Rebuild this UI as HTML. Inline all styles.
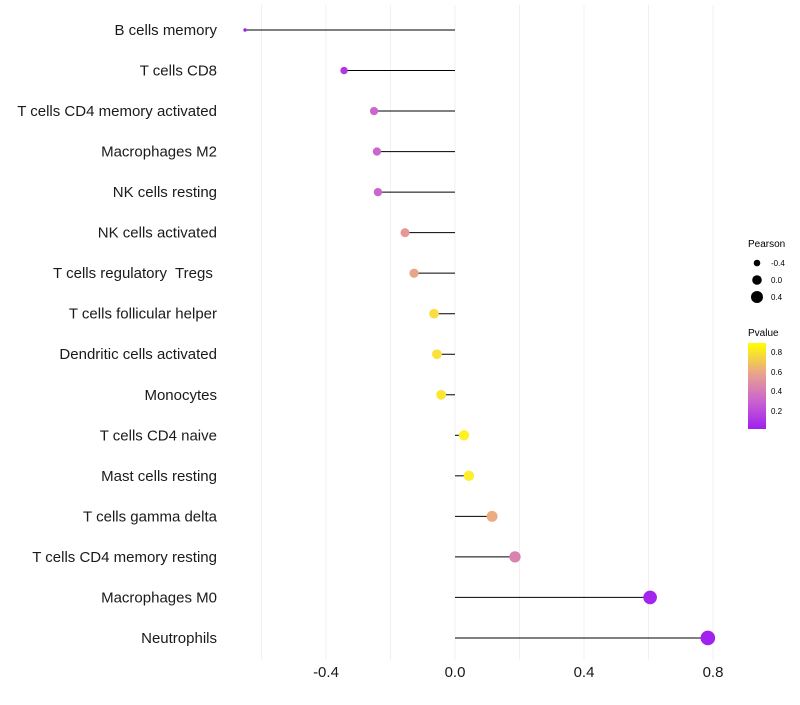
<!DOCTYPE html>
<html><head><meta charset="utf-8"><style>
body{margin:0;background:#fff;font-family:"Liberation Sans",sans-serif}
svg text{font-family:"Liberation Sans",sans-serif;white-space:pre}
</style></head><body>
<svg id="chart" width="800" height="700" xmlns="http://www.w3.org/2000/svg">
<g id="grid"></g>
<g id="marks"></g>
<g id="ylabels"></g>
<g id="xlabels"></g>
<g id="legend">
<defs><linearGradient id="pg" x1="0" y1="1" x2="0" y2="0">
<stop offset="0" stop-color="#A020F0"/><stop offset="0.34" stop-color="#CC66CC"/><stop offset="0.63" stop-color="#E8A090"/><stop offset="1" stop-color="#FFFF00"/></linearGradient></defs>
<text x="748" y="247" font-size="10">Pearson</text>
<circle cx="757" cy="263" r="3.3" fill="#000"/>
<text x="771" y="266" font-size="8">-0.4</text>
<circle cx="757" cy="280" r="4.8" fill="#000"/>
<text x="771" y="283" font-size="8">0.0</text>
<circle cx="757" cy="297" r="6" fill="#000"/>
<text x="771" y="300" font-size="8">0.4</text>
<text x="748" y="336" font-size="10">Pvalue</text>
<rect x="748" y="343" width="18" height="86" fill="url(#pg)"/>
<text x="771" y="355" font-size="8">0.8</text>
<text x="771" y="375" font-size="8">0.6</text>
<text x="771" y="394" font-size="8">0.4</text>
<text x="771" y="414" font-size="8">0.2</text>
</g>
</svg>
<script>
const categories=["B cells memory","T cells CD8","T cells CD4 memory activated","Macrophages M2","NK cells resting","NK cells activated","T cells regulatory  Tregs ","T cells follicular helper","Dendritic cells activated","Monocytes","T cells CD4 naive","Mast cells resting","T cells gamma delta","T cells CD4 memory resting","Macrophages M0","Neutrophils"];
const pearson=[-0.651,-0.344,-0.251,-0.242,-0.239,-0.155,-0.127,-0.065,-0.056,-0.043,0.028,0.043,0.115,0.186,0.605,0.784];
const pvalues=[0.01,0.1,0.3,0.3,0.3,0.52,0.57,0.8,0.82,0.84,0.88,0.87,0.6,0.42,0.02,0.01];
const xTicks=[-0.4,0.0,0.4,0.8];
const xTickLabels=["-0.4","0.0","0.4","0.8"];
const gridVals=[-0.6,-0.4,-0.2,0,0.2,0.4,0.6,0.8];
const NS="http://www.w3.org/2000/svg";
function xs(v){return 455+v*322.5;}
function ys(i){return 30+i*40.53;}
function rs(v){const mn=-0.651,mx=0.784;const a=3+(v-mn)/(mx-mn)*50;return Math.sqrt(a);}
const stops=[[0,[160,32,240]],[0.3,[204,102,204]],[0.55,[232,160,144]],[0.88,[255,240,40]]];
function col(p){if(p<=0)return "rgb(160,32,240)";for(let i=1;i<stops.length;i++){if(p<=stops[i][0]){const a=stops[i-1],b=stops[i];const t=(p-a[0])/(b[0]-a[0]);const c=a[1].map((x,k)=>Math.round(x+(b[1][k]-x)*t));return "rgb("+c.join(",")+")";}}return "rgb(255,240,40)";}
function mk(tag,at,parent){const e=document.createElementNS(NS,tag);for(const k in at)e.setAttribute(k,at[k]);parent.appendChild(e);return e;}
const grid=document.getElementById('grid'),marks=document.getElementById('marks'),yl=document.getElementById('ylabels'),xl=document.getElementById('xlabels');
gridVals.forEach(v=>{const l=mk('line',{x1:xs(v),x2:xs(v),y1:5,y2:660,stroke:'#f0f0f0','stroke-width':1},grid);

});
categories.forEach((c,i)=>{const y=ys(i);
const ln=mk('line',{x1:xs(0),x2:xs(pearson[i]),y1:y,y2:y,stroke:'#000','stroke-width':1},marks);


const ci=mk('circle',{cx:xs(pearson[i]),cy:y,r:rs(pearson[i]),fill:col(pvalues[i])},marks);


const t=mk('text',{x:217,y:y+5,'font-size':15,'text-anchor':'end',fill:'#1a1a1a'},yl);t.textContent=c;

});
xTicks.forEach((v,i)=>{const t=mk('text',{x:xs(v),y:677,'font-size':15,'text-anchor':'middle',fill:'#1a1a1a'},xl);t.textContent=xTickLabels[i];

});
</script>
</body></html>
